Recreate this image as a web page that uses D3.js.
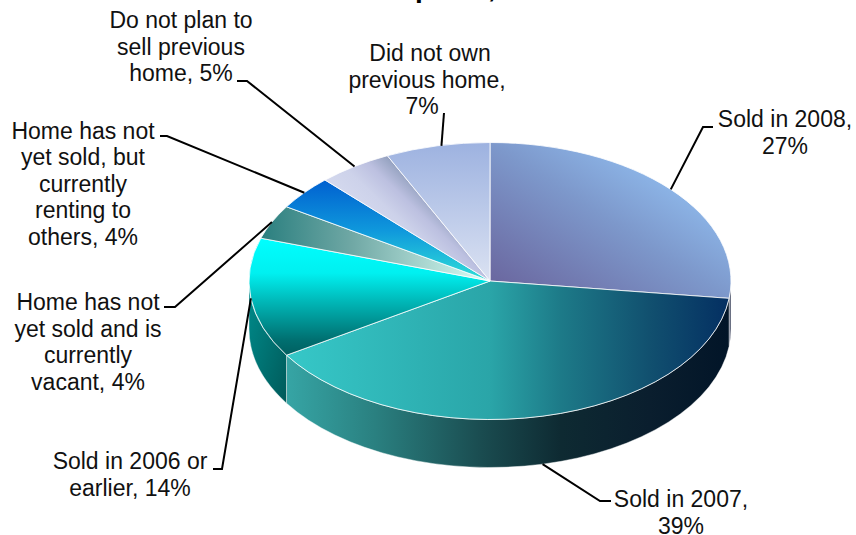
<!DOCTYPE html>
<html>
<head>
<meta charset="utf-8">
<script src="https://cdn.jsdelivr.net/npm/d3@7"></script>
<style>
  html, body { margin: 0; padding: 0; background: #fff; overflow: hidden; }
  text { font-family: "Liberation Sans", Arial, sans-serif; fill: #111; }
</style>
</head>
<body>
<svg id="chart" width="856" height="535"></svg>
<script>
// Disposition of the buyer's previous home, share of respondents (%)
const categories = ["Sold in 2008", "Sold in 2007", "Sold in 2006 or earlier",
  "Home has not yet sold and is currently vacant",
  "Home has not yet sold, but currently renting to others",
  "Do not plan to sell previous home", "Did not own previous home"];
const shares = [27, 39, 14, 4, 4, 5, 7];

// Wrapped label lines; the percentage is appended to the final line
const labelLines = [
  ["Sold in 2008,", ""],
  ["Sold in 2007,", ""],
  ["Sold in 2006 or", "earlier,"],
  ["Home has not", "yet sold and is", "currently", "vacant,"],
  ["Home has not", "yet sold, but", "currently", "renting to", "others,"],
  ["Do not plan to", "sell previous", "home,"],
  ["Did not own", "previous home,", ""]
];

// Label placement: text centre, first baseline, and the leader's elbow and tail
const labelPlacement = [
  { x: 785, y: 127, elbow: [703, 127], tail: [713, 127] },
  { x: 681, y: 507, elbow: [600, 501], tail: [611, 501], onSide: true },
  { x: 130, y: 469, elbow: [222, 469], tail: [213, 469] },
  { x: 88,  y: 310, elbow: [175, 307], tail: [164, 307] },
  { x: 83,  y: 138.5, elbow: [167, 136], tail: [160, 136] },
  { x: 181, y: 28,  elbow: [247, 81],  tail: [237, 81] },
  { x: 430, y: 61,  elbow: [444, 113], tail: [444, 113], anchorDx: 4, lineDx: [0, -3, -8] }
];

// Face fills: [x1, y1, x2, y2] in bounding-box units, then offset/colour stops
const faceFills = [
  [[0, 1, 1, 0], [[0, "#68619a"], [.5, "#7d98cb"], [.8, "#90bcee"], [1, "#92c0f2"]]],
  [[0, 0, 1, 0], [[0, "#36c8c8"], [.46, "#2aa5a8"], [.62, "#1d7a88"], [.82, "#11506f"], [1, "#042f62"]]],
  [[0, 0, 0, 1], [[0, "#00ffff"], [.3, "#00f0f0"], [.53, "#00baba"], [.87, "#006f70"], [1, "#005f60"]]],
  [[0, 0, 1, 0], [[0, "#2a7f7f"], [.4, "#70a8a5"], [.75, "#b0dcd5"], [1, "#d8fff8"]]],
  [[0, 0, 0, 1], [[0, "#0060d0"], [.5, "#0f98dc"], [1, "#30e0d8"]]],
  [[0, .2, .42, -.129], [[0, "#d4d9ee"], [.3, "#cdd2ea"], [.55, "#bcc0e0"], [.75, "#9aa6c4"], [.85, "#828fae"], [1, "#7d8aaa"]]],
  [[0, 0, 0, 1], [[0, "#9db2e0"], [1, "#dbe2f2"]]]
];
// Rim fills for the slices that wrap around the front of the disc
const rimFills = [
  [[0, 0, 1, 0], [[0, "#58627c"], [1, "#3a4058"]]],
  [[0, 0, 1, 0], [[0, "#36a5a5"], [.2, "#2a8080"], [.44, "#1a4c50"], [.62, "#0e2a32"], [.82, "#0a1e2e"], [1, "#021528"]]],
  [[0, 0, 1, 1], [[0, "#008c8c"], [1, "#005a5a"]]]
];

const cx = 490, cy = 281, rx = 241, ry = 138.5, depth = 48;
const px = a => cx + rx * Math.sin(a);
const py = a => cy - ry * Math.cos(a);

const svg = d3.select("#chart");
const defs = svg.append("defs");

function addGradient(id, spec) {
  const [[x1, y1, x2, y2], stops] = spec;
  const g = defs.append("linearGradient").attr("id", id)
    .attr("x1", x1).attr("y1", y1).attr("x2", x2).attr("y2", y2);
  g.selectAll("stop").data(stops).join("stop")
    .attr("offset", d => d[0]).attr("stop-color", d => d[1]);
}
faceFills.forEach((s, i) => addGradient("face" + i, s));
rimFills.forEach((s, i) => addGradient("rim" + i, s));

const pie = d3.pie().sort(null).value(d => d)(shares);

// Section of the tilted disc's top surface
function facePath(d) {
  const large = d.endAngle - d.startAngle > Math.PI ? 1 : 0;
  return `M${cx},${cy}L${px(d.startAngle)},${py(d.startAngle)}` +
    `A${rx},${ry} 0 ${large} 1 ${px(d.endAngle)},${py(d.endAngle)}Z`;
}

// Visible rim: only the span of the outline that faces the viewer
function rimPath(d) {
  const a0 = Math.max(d.startAngle, Math.PI / 2);
  const a1 = Math.min(d.endAngle, 3 * Math.PI / 2);
  if (a1 <= a0) return null;
  return `M${px(a0)},${py(a0)}A${rx},${ry} 0 0 1 ${px(a1)},${py(a1)}` +
    `L${px(a1)},${py(a1) + depth}A${rx},${ry} 0 0 0 ${px(a0)},${py(a0) + depth}Z`;
}

// Title sits mostly above the top edge of the page
svg.append("text")
  .attr("x", 366).attr("y", -3.4)
  .attr("text-anchor", "middle")
  .style("font-size", "28px").style("font-weight", "bold")
  .style("fill", "#000")
  .text("Previous home disposal, 2008");

svg.append("g").selectAll("path")
  .data(pie.filter(d => rimPath(d)))
  .join("path")
  .attr("d", rimPath)
  .attr("fill", d => `url(#rim${d.index})`)
  .attr("stroke", "#fff").attr("stroke-opacity", .55).attr("stroke-width", .8);

svg.append("g").selectAll("path")
  .data(pie)
  .join("path")
  .attr("d", facePath)
  .attr("fill", d => `url(#face${d.index})`)
  .attr("stroke", "#fff").attr("stroke-opacity", .8).attr("stroke-width", 1)
  .attr("stroke-linejoin", "round");

// Leaders run from the middle of each slice's outer edge to its label
const leader = d3.line();
svg.append("g").selectAll("path")
  .data(pie)
  .join("path")
  .attr("d", d => {
    const mid = (d.startAngle + d.endAngle) / 2;
    const p = labelPlacement[d.index];
    const anchor = [px(mid) + (p.anchorDx || 0), py(mid) + (p.onSide ? depth : 0)];
    return leader([anchor, p.elbow, p.tail]);
  })
  .attr("fill", "none").attr("stroke", "#000").attr("stroke-width", 2);

const lineStep = 26.5;
const labels = svg.append("g").selectAll("text")
  .data(pie)
  .join("text")
  .attr("text-anchor", "middle")
  .style("font-size", "23px");
labels.each(function (d) {
  const p = labelPlacement[d.index];
  const lines = labelLines[d.index];
  d3.select(this).selectAll("tspan").data(lines).join("tspan")
    .attr("x", (l, i) => p.x + (p.lineDx ? p.lineDx[i] : 0))
    .attr("y", (l, i) => p.y + i * lineStep)
    .text((l, i) => i === lines.length - 1 ? (l ? l + " " : "") + d.value + "%" : l);
});
</script>
</body>
</html>
